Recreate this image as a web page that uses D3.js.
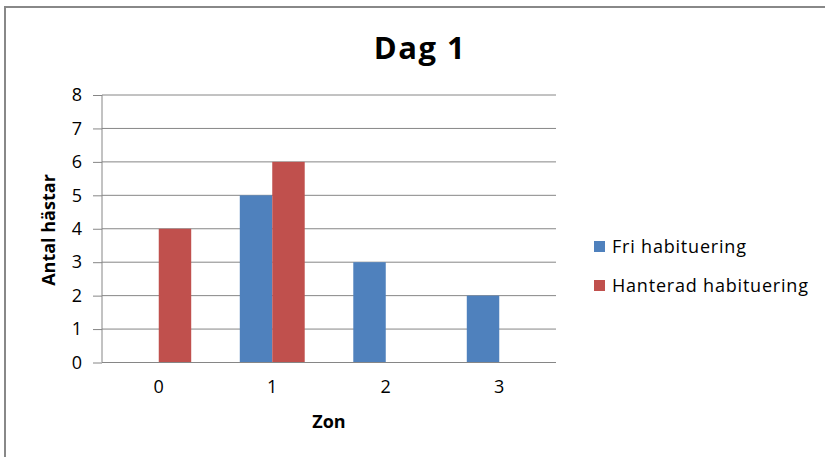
<!DOCTYPE html>
<html>
<head>
<meta charset="utf-8">
<script src="https://cdn.jsdelivr.net/npm/d3@7/dist/d3.min.js"></script>
<style>
  html, body { margin: 0; padding: 0; background: #fff; }
  svg { display: block; font-family: "Open Sans", "Noto Sans", sans-serif; }
</style>
</head>
<body>
<svg id="chart" width="825" height="457"></svg>
<script>
// Number of horses per zone, day 1
const zones = ["0", "1", "2", "3"];
const seriesNames = ["Fri habituering", "Hanterad habituering"];
const friValues = [0, 5, 3, 2];
const hanteradValues = [4, 6, 0, 0];
const yTicks = [0, 1, 2, 3, 4, 5, 6, 7, 8];
const colors = ["#4F81BD", "#C0504D"];

const svg = d3.select("#chart");
const W = 825, H = 457;
const plot = { left: 102, right: 556, top: 95, bottom: 362.5 };

// Outer frame of the chart area
svg.append("rect")
  .attr("x", 5).attr("y", 7)
  .attr("width", W + 10).attr("height", H + 10)
  .attr("fill", "#fff")
  .attr("stroke", "#888").attr("stroke-width", 2);

const x = d3.scaleBand()
  .domain(zones)
  .range([plot.left, plot.right])
  .paddingInner(0.428)
  .paddingOuter(0.214);

const xSeries = d3.scaleBand()
  .domain(seriesNames)
  .range([0, x.bandwidth()]);

const y = d3.scaleLinear()
  .domain([0, 8])
  .range([plot.bottom, plot.top]);

// Horizontal gridlines
svg.append("g")
  .selectAll("line")
  .data(yTicks.filter(d => d > 0))
  .join("line")
  .attr("x1", plot.left).attr("x2", plot.right)
  .attr("y1", d => y(d)).attr("y2", d => y(d))
  .attr("stroke", "#868686").attr("stroke-width", 1);

// Bars
const rows = zones.map((z, i) => ({
  zone: z,
  values: [
    { name: seriesNames[0], value: friValues[i], color: colors[0] },
    { name: seriesNames[1], value: hanteradValues[i], color: colors[1] }
  ]
}));

svg.append("g")
  .selectAll("g")
  .data(rows)
  .join("g")
  .attr("transform", d => `translate(${x(d.zone)},0)`)
  .selectAll("rect")
  .data(d => d.values.filter(v => v.value > 0))
  .join("rect")
  .attr("x", d => xSeries(d.name))
  .attr("width", xSeries.bandwidth())
  .attr("y", d => y(d.value))
  .attr("height", d => y(0) - y(d.value))
  .attr("fill", d => d.color);

// Y axis
const yAxis = svg.append("g")
  .attr("transform", `translate(${plot.left},0)`)
  .call(d3.axisLeft(y).tickValues(yTicks).tickSize(9).tickPadding(11).tickFormat(d3.format("d")));
yAxis.select(".domain").attr("stroke", "#868686").attr("d", `M0,${plot.top}V${plot.bottom}`);
yAxis.selectAll(".tick line").attr("stroke", "#868686");
yAxis.selectAll(".tick text")
  .attr("font-size", 18).attr("fill", "#000")
  .style("font-family", "'Open Sans', sans-serif");

// X axis
const xAxis = svg.append("g")
  .attr("transform", `translate(0,${plot.bottom})`)
  .call(d3.axisBottom(x).tickSize(0).tickPadding(18));
xAxis.select(".domain").attr("stroke", "#868686").attr("d", `M${plot.left},0H${plot.right}`);
xAxis.selectAll(".tick text")
  .attr("font-size", 18).attr("fill", "#000")
  .style("font-family", "'Open Sans', sans-serif");

// Title
svg.append("text")
  .attr("x", 420).attr("y", 59)
  .attr("text-anchor", "middle")
  .attr("font-size", 31).attr("font-weight", "bold")
  .attr("letter-spacing", 1.5)
  .text("Dag 1");

// Axis titles
svg.append("text")
  .attr("x", 329).attr("y", 428)
  .attr("text-anchor", "middle")
  .attr("font-size", 18).attr("font-weight", "bold")
  .text("Zon");

svg.append("text")
  .attr("transform", "translate(55,230) rotate(-90)")
  .attr("text-anchor", "middle")
  .attr("font-size", 18).attr("font-weight", "bold")
  .text("Antal hästar");

// Legend
const legend = svg.append("g")
  .selectAll("g")
  .data(seriesNames)
  .join("g")
  .attr("transform", (d, i) => `translate(594,${247 + i * 39})`);
legend.append("rect")
  .attr("x", 0).attr("y", -6)
  .attr("width", 11).attr("height", 11)
  .attr("fill", (d, i) => colors[i]);
legend.append("text")
  .attr("x", 18).attr("y", 0)
  .attr("dy", "0.35em")
  .attr("font-size", 18)
  .attr("letter-spacing", 0.8)
  .text(d => d);
</script>
</body>
</html>
